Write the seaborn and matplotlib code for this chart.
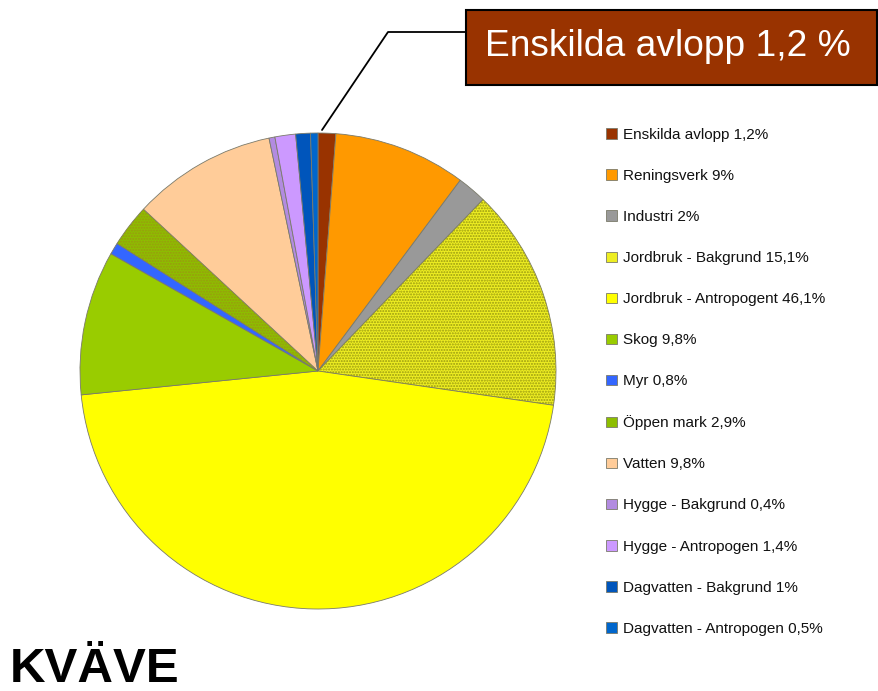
import matplotlib
matplotlib.use("Agg")
import matplotlib.pyplot as plt
import seaborn as sns

sns.set_theme(style="white")
plt.rcParams['font.family'] = ['Liberation Sans', 'DejaVu Sans']

labels = ["Enskilda avlopp 1,2%", "Reningsverk 9%", "Industri 2%",
          "Jordbruk - Bakgrund 15,1%", "Jordbruk - Antropogent 46,1%",
          "Skog 9,8%", "Myr 0,8%", "Öppen mark 2,9%", "Vatten 9,8%",
          "Hygge - Bakgrund 0,4%", "Hygge - Antropogen 1,4%",
          "Dagvatten - Bakgrund 1%", "Dagvatten - Antropogen 0,5%"]
values = [1.2, 9, 2, 15.1, 46.1, 9.8, 0.8, 2.9, 9.8, 0.4, 1.4, 1, 0.5]
colors = ["#993300", "#FF9900", "#999999", "#EEEE22", "#FFFF00",
          "#99CC00", "#3366FF", "#8DBE00", "#FFCC99", "#B28BE0",
          "#CC99FF", "#0055BB", "#0066CC"]
hatched = [False, False, False, True, False, False, False, True,
           False, False, False, False, False]
callout_text = "Enskilda avlopp 1,2 %"
title_text = "KVÄVE"

W, H = 879, 691
fig = plt.figure(figsize=(W / 100, H / 100), dpi=100)
fig.patch.set_facecolor("white")

cx, cy, r = 318, 371, 238
pad = 1.1
ax = fig.add_axes([(cx - r * pad) / W, (H - cy - r * pad) / H,
                   2 * r * pad / W, 2 * r * pad / H])
wedges, _ = ax.pie(values, colors=colors, startangle=90, counterclock=False,
                   wedgeprops=dict(edgecolor="#7a7a6a", linewidth=0.6))
# dotted overlay for hatched slices
over, _ = ax.pie(values, colors=["none"] * len(values), startangle=90,
                 counterclock=False,
                 wedgeprops=dict(linewidth=0))
plt.rcParams['hatch.linewidth'] = 0.6
for w, h in zip(over, hatched):
    if h:
        w.set_hatch("......")
        w.set_edgecolor("#9a9a10")
    else:
        w.set_visible(False)
ax.set_xlim(-pad, pad)
ax.set_ylim(-pad, pad)
ax.set_aspect("equal")
ax.axis("off")

leg = fig.legend(wedges, labels, loc="upper left",
                 bbox_to_anchor=(600 / W, 1 - 122 / H),
                 frameon=False, fontsize=11, handlelength=0.7,
                 handleheight=0.7, handletextpad=0.4, labelspacing=1.77,
                 borderaxespad=0)
for t in leg.get_texts():
    t.set_color("#111111")

# callout line and box
fig.add_artist(plt.Line2D([322 / W, 388 / W, 466 / W],
                          [1 - 130 / H, 1 - 32 / H, 1 - 32 / H],
                          color="black", lw=1.3, transform=fig.transFigure))
box = plt.Rectangle((466 / W, 1 - 85 / H), 411 / W, 75 / H,
                    facecolor="#993300", edgecolor="black", lw=1.5,
                    transform=fig.transFigure)
fig.add_artist(box)
fig.text(485 / W, 1 - 46 / H, callout_text, color="white", fontsize=26.7,
         va="center", ha="left")

fig.text(10 / W, 1 - 669 / H, title_text, fontsize=35.5, fontweight="bold",
         va="center", ha="left", color="black")

fig.savefig("out.png", dpi=100, facecolor="white")
